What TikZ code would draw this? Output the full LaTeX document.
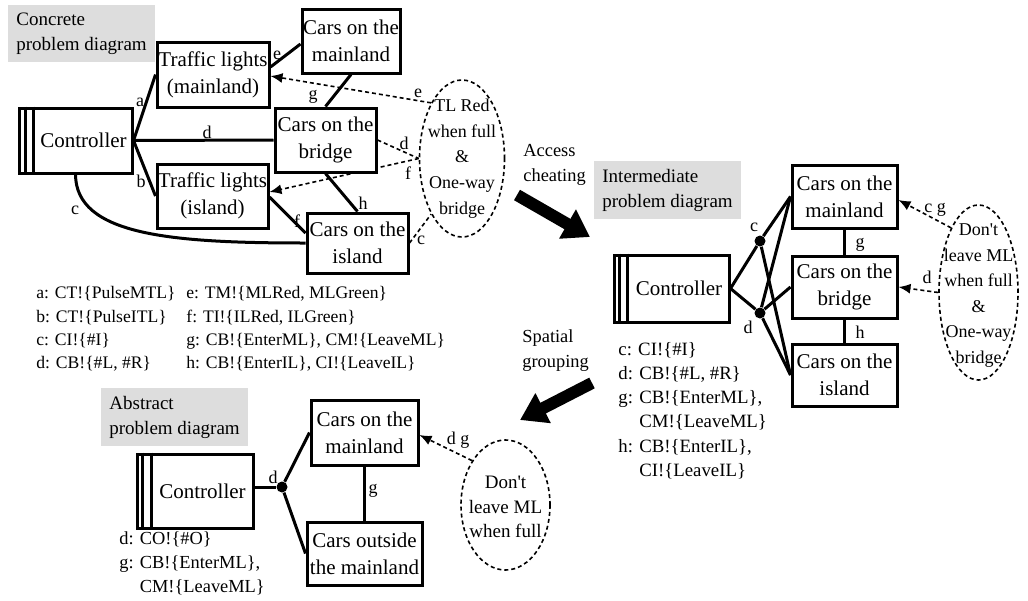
\documentclass[tikz,border=0pt]{standalone}
\usepackage{fontspec}
\setmainfont{Liberation Serif}
\usetikzlibrary{shapes.geometric,arrows.meta}
\pgfdeclarelayer{bg}
\pgfsetlayers{bg,main}
\definecolor{tagfill}{RGB}{221,221,221}
\begin{document}
\begin{tikzpicture}[x=0.5pt,y=-0.5pt,
 box/.style={draw,line width=1.5pt,fill=white,inner sep=0pt,align=center,font=\fontsize{10.5}{13.5}\selectfont},
 conn/.style={line width=1.5pt},
 dsh/.style={line width=0.8pt,dash pattern=on 2pt off 1.5pt},
 darr/.style={dsh,-{Latex[length=6pt,width=5pt]}},
 req/.style={ellipse,draw,line width=0.8pt,dash pattern=on 2pt off 1.5pt,inner sep=0pt},
 reqtxt/.style={align=center,inner sep=0pt,font=\fontsize{9}{12.8}\selectfont},
 tag/.style={fill=tagfill,anchor=north west,inner ysep=0pt,inner xsep=4pt,align=left,font=\fontsize{9.5}{12.5}\selectfont},
 lbl/.style={inner sep=0pt,font=\fontsize{9}{10}\selectfont},
 legend/.style={inner sep=0pt,anchor=west,align=left},
 bigarr/.style={line width=6pt,-{Triangle[length=13pt,width=16pt]}},
 dot/.style={circle,fill=black,inner sep=0pt,minimum size=5.5pt},
 stripe/.style={line width=1.5pt},
 note/.style={inner sep=0pt,anchor=west,align=left,font=\fontsize{9.2}{12.5}\selectfont}
]
\useasboundingbox (0,0) rectangle (1028,600);

% ---------------- Concrete problem diagram ----------------
\node[tag,minimum width=72.5pt,minimum height=28.5pt] (tagC) at (8,5) {Concrete\\problem diagram};
\node[box,minimum width=56.5pt,minimum height=32.5pt] (Ctrl) at (75.5,140.5) {\hspace*{8pt}Controller};
\draw[stripe] ([xshift=4pt]Ctrl.north west) -- ([xshift=4pt]Ctrl.south west);
\draw[stripe] ([xshift=8pt]Ctrl.north west) -- ([xshift=8pt]Ctrl.south west);
\node[box,minimum width=56pt,minimum height=32.5pt] (TLm) at (213,74.5) {Traffic lights\\(mainland)};
\node[box,minimum width=49pt,minimum height=32pt] (CMm) at (351,41) {Cars on the\\mainland};
\node[box,minimum width=50.5pt,minimum height=32pt] (CBr) at (325.5,140) {Cars on the\\bridge};
\node[box,minimum width=55.5pt,minimum height=32pt] (TLi) at (212.5,196) {Traffic lights\\(island)};
\node[box,minimum width=50.5pt,minimum height=30pt] (CIs) at (357.5,243) {Cars on the\\island};
\node[req,minimum width=42.5pt,minimum height=78.5pt,
  label={[reqtxt]center:TL Red\\when full\\\&\\One-way\\bridge}] (ETL) at (462,158.5) {};

\begin{pgfonlayer}{bg}
\draw[conn] (Ctrl.east) -- (TLm.west);
\draw[conn] (Ctrl.east) -- (TLi.west);
\draw[conn] (Ctrl.east) -- (CBr.west);
\draw[conn] (Ctrl.south) .. controls (76,235) and (170,243) .. (CIs.west);
\draw[conn] ([yshift=3.75pt]TLm.east) -- ([yshift=-1.5pt]CMm.west);
\draw[conn] (CMm.south) -- (CBr.north);
\draw[conn] (CBr.south) -- (CIs.north);
\draw[conn] ([yshift=-0.5pt]TLi.east) -- ([yshift=5pt]CIs.west);
\draw[darr] (ETL.119.5) -- ([yshift=-0.75pt]TLm.east);
\draw[dsh] (CBr.east) -- (ETL.west);
\draw[darr] (ETL.west) -- ([yshift=2pt]TLi.east);
\draw[dsh] (CIs.east) -- (ETL.241);
\end{pgfonlayer}

\node[lbl] (la) at (140,102) {a};
\node[lbl] (lb) at (141,181) {b};
\node[lbl] (lc) at (75,210) {c};
\node[lbl] (ld) at (207,132) {d};
\node[lbl] (le) at (277,55) {e};
\node[lbl] (lg) at (313,97) {g};
\node[lbl] (lh) at (363,203) {h};
\node[lbl] (lf) at (297,221) {f};
\node[lbl] (lde) at (418,93) {e};
\node[lbl] (ldd) at (404,143) {d};
\node[lbl] (ldf) at (408,173) {f};
\node[lbl] (ldc) at (421,240) {c};

\node[legend,font=\fontsize{8.8}{11.7}\selectfont] (legC1) at (36,329)
 {a: CT!\{PulseMTL\}\\b: CT!\{PulseITL\}\\c: CI!\{\#I\}\\d: CB!\{\#L, \#R\}};
\node[legend,font=\fontsize{8.8}{11.7}\selectfont] (legC2) at (186,329)
 {e: TM!\{MLRed, MLGreen\}\\f: TI!\{ILRed, ILGreen\}\\g: CB!\{EnterML\}, CM!\{LeaveML\}\\h: CB!\{EnterIL\}, CI!\{LeaveIL\}};

% ---------------- transformation arrows ----------------
\coordinate (acS) at (517,195);
\coordinate (acE) at (590,237);
\draw[bigarr] (acS) -- (acE);
\node[note] (acT) at (523,164.5) {Access\\cheating};
\coordinate (sgS) at (592,383);
\coordinate (sgE) at (520,420);
\draw[bigarr] (sgS) -- (sgE);
\node[note] (sgT) at (522,350.5) {Spatial\\grouping};

% ---------------- Intermediate problem diagram ----------------
\node[tag,minimum width=72pt,minimum height=29pt] (tagI) at (594,161) {Intermediate\\problem diagram};
\node[box,minimum width=57.5pt,minimum height=33.5pt] (Ctrl2) at (671.5,288.5) {\hspace*{7.5pt}Controller};
\draw[stripe] ([xshift=3.5pt]Ctrl2.north west) -- ([xshift=3.5pt]Ctrl2.south west);
\draw[stripe] ([xshift=7.5pt]Ctrl2.north west) -- ([xshift=7.5pt]Ctrl2.south west);
\node[box,minimum width=52.5pt,minimum height=31.5pt] (M2) at (844.5,196.5) {Cars on the\\mainland};
\node[box,minimum width=52.5pt,minimum height=31pt] (B2) at (844.5,287) {Cars on the\\bridge};
\node[box,minimum width=52.5pt,minimum height=31pt] (I2) at (844.5,375) {Cars on the\\island};
\node[dot] (cdot) at (760,241) {};
\node[dot] (ddot) at (760,313) {};
\node[req,minimum width=39.5pt,minimum height=87.5pt,
  label={[reqtxt,yshift=-1.5pt]center:Don\textquotesingle t\\leave ML\\when full\\\&\\One-way\\bridge}] (E2) at (978.5,292.5) {};

\begin{pgfonlayer}{bg}
\draw[conn] (Ctrl2.east) -- (cdot);
\draw[conn] (Ctrl2.east) -- (ddot);
\draw[conn] (cdot) -- (M2.west);
\draw[conn] (cdot) -- (I2.west);
\draw[conn] (ddot) -- (M2.west);
\draw[conn] (ddot) -- (B2.west);
\draw[conn] (ddot) -- (I2.west);
\draw[conn] (M2.south) -- (B2.north);
\draw[conn] (B2.south) -- (I2.north);
\draw[darr] (E2.113.5) -- ([yshift=-1.75pt]M2.east);
\draw[darr] (E2.west) -- (B2.east);
\end{pgfonlayer}

\node[lbl] (lc2) at (754,227) {c};
\node[lbl] (ld2) at (748,327) {d};
\node[lbl] (lg2) at (860,245) {g};
\node[lbl] (lh2) at (860,332) {h};
\node[lbl] (lcg2) at (935,210) {c g};
\node[lbl] (ldd2) at (927,277) {d};

\node[legend,font=\fontsize{9.4}{12.15}\selectfont] (legI) at (618,410.5)
 {c: CI!\{\#I\}\\d: CB!\{\#L, \#R\}\\g: CB!\{EnterML\},\\\phantom{g: }CM!\{LeaveML\}\\h: CB!\{EnterIL\},\\\phantom{h: }CI!\{LeaveIL\}};

% ---------------- Abstract problem diagram ----------------
\node[tag,minimum width=73pt,minimum height=29pt] (tagA) at (101,388) {Abstract\\problem diagram};
\node[box,minimum width=58pt,minimum height=37pt] (Ctrl3) at (195,491) {\hspace*{7.5pt}Controller};
\draw[stripe] ([xshift=3.5pt]Ctrl3.north west) -- ([xshift=3.5pt]Ctrl3.south west);
\draw[stripe] ([xshift=8pt]Ctrl3.north west) -- ([xshift=8pt]Ctrl3.south west);
\node[dot] (adot) at (282,487) {};
\node[box,minimum width=53.5pt,minimum height=32.5pt] (M3) at (364.5,432.5) {Cars on the\\mainland};
\node[box,minimum width=57.5pt,minimum height=31.5pt] (O3) at (364.5,553.5) {Cars outside\\the mainland};
\node[req,minimum width=44.5pt,minimum height=65pt,
  label={[reqtxt,font=\fontsize{9.5}{12.3}\selectfont,yshift=-1pt]center:Don\textquotesingle t\\leave ML\\when full}] (E3) at (505.5,505) {};

\begin{pgfonlayer}{bg}
\draw[conn] ([yshift=2pt]Ctrl3.east) -- (adot);
\draw[conn] (adot) -- (M3.west);
\draw[conn] (adot) -- (O3.west);
\draw[conn] (M3.south) -- (O3.north);
\draw[darr] (E3.127) -- ([yshift=-1.25pt]M3.east);
\end{pgfonlayer}

\node[lbl] (ld3) at (273,477) {d};
\node[lbl] (lg3) at (373,491) {g};
\node[lbl] (ldg3) at (458,440) {d g};

\node[legend,font=\fontsize{9.2}{12}\selectfont] (legA) at (119,564)
 {d: CO!\{\#O\}\\g: CB!\{EnterML\},\\\phantom{g: }CM!\{LeaveML\}};
\end{tikzpicture}
\end{document}
